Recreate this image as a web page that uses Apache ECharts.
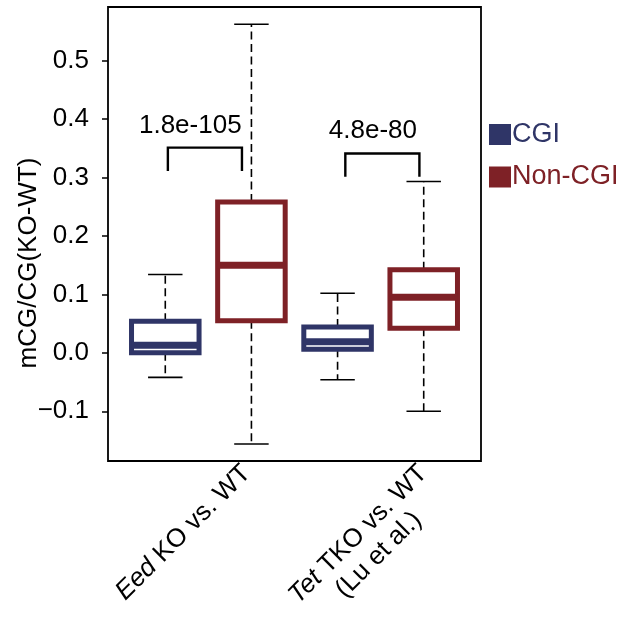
<!DOCTYPE html>
<html>
<head>
<meta charset="utf-8">
<script src="https://cdn.jsdelivr.net/npm/echarts@6.0.0/dist/echarts.min.js"></script>
<style>
  html, body { margin: 0; padding: 0; background: #fff; }
  #chart { width: 638px; height: 624px; }
</style>
</head>
<body>
<div id="chart"></div>
<script>
// data
const groupNames = ["CGI", "Non-CGI"];
const comparisons = ["Eed KO vs. WT", "Tet TKO vs. WT (Lu et al.)"];
// [min, Q1, median, Q3, max] per comparison
const cgiStats = [
  [-0.042, 0.0, 0.013, 0.054, 0.134],
  [-0.046, 0.006, 0.019, 0.044, 0.102],
];
const nonCgiStats = [
  [-0.156, 0.055, 0.150, 0.258, 0.562],
  [-0.100, 0.042, 0.095, 0.142, 0.293],
];
// box positions on the hidden x scale
const cgiX = [1, 3];
const nonCgiX = [2, 4];
// p-value annotations
const pValues = ["1.8e-105", "4.8e-80"];
const bracketLeft = [1.03, 3.09];
const bracketRight = [1.89, 3.95];
const bracketTop = [0.351, 0.341];
const bracketLeg = [0.311, 0.301];
const pLabelX = [1.29, 3.41];
const pLabelY = [0.388, 0.379];
// y ticks
const yTicks = [-0.1, 0, 0.1, 0.2, 0.3, 0.4, 0.5];
// x label anchors
const xLabelPos = [2.064, 4.114];

const FONT = "'Liberation Sans', Arial, Helvetica, sans-serif";
const navy = "#2f3567";
const red = "#7e2126";

const boxData = (xs, stats) => xs.map((x, i) => [x].concat(stats[i]));

const renderBox = (params, api) => {
  const x = api.value(0);
  const pMin = api.coord([x, api.value(1)]);
  const pQ1 = api.coord([x, api.value(2)]);
  const pMed = api.coord([x, api.value(3)]);
  const pQ3 = api.coord([x, api.value(4)]);
  const pMax = api.coord([x, api.value(5)]);
  const half = api.size([0.392, 0])[0];
  const cap = api.size([0.2, 0])[0];
  const color = api.visual("color");
  const cx = pMed[0];
  const dash = { stroke: "#000", lineWidth: 1.6, lineDash: [8, 4.5] };
  const solid = { stroke: "#000", lineWidth: 1.6 };
  return {
    type: "group",
    children: [
      { type: "line", shape: { x1: cx, y1: pQ3[1], x2: cx, y2: pMax[1] }, style: dash },
      { type: "line", shape: { x1: cx, y1: pQ1[1], x2: cx, y2: pMin[1] }, style: dash },
      { type: "line", shape: { x1: cx - cap, y1: pMax[1], x2: cx + cap, y2: pMax[1] }, style: solid },
      { type: "line", shape: { x1: cx - cap, y1: pMin[1], x2: cx + cap, y2: pMin[1] }, style: solid },
      {
        type: "rect",
        shape: { x: cx - half, y: pQ3[1], width: half * 2, height: pQ1[1] - pQ3[1] },
        style: { fill: "#fff", stroke: color, lineWidth: 5 },
      },
      {
        type: "line",
        shape: { x1: cx - half, y1: pMed[1], x2: cx + half, y2: pMed[1] },
        style: { stroke: color, lineWidth: 7 },
      },
    ],
  };
};

const renderBracket = (params, api) => {
  const i = params.dataIndex;
  const l = api.coord([api.value(0), api.value(3)]);
  const lt = api.coord([api.value(0), api.value(2)]);
  const rt = api.coord([api.value(1), api.value(2)]);
  const r = api.coord([api.value(1), api.value(3)]);
  const t = api.coord([api.value(4), api.value(5)]);
  return {
    type: "group",
    children: [
      {
        type: "polyline",
        shape: { points: [l, lt, rt, r] },
        style: { stroke: "#000", lineWidth: 2.4, fill: null },
      },
      {
        type: "text",
        x: t[0],
        y: t[1],
        style: {
          text: pValues[i],
          font: "26px " + FONT,
          fill: "#000",
          align: "center",
          verticalAlign: "middle",
        },
      },
    ],
  };
};

const xLabelText = (v) => {
  if (Math.abs(v - xLabelPos[0]) < 1e-6) return "{i|Eed}{n| KO vs. WT}\n{c| }";
  if (Math.abs(v - xLabelPos[1]) < 1e-6) return "{i|Tet}{n| TKO vs. WT}\n{c|(Lu et al.)}";
  return "";
};

const chart = echarts.init(document.getElementById("chart"));
const option = {
  animation: false,
  backgroundColor: "#fff",
  grid: {
    left: 108,
    right: 157,
    top: 7,
    bottom: 163,
    outerBoundsMode: "none",
    containLabel: false,
    show: true,
    borderColor: "#000",
    borderWidth: 1.8,
    backgroundColor: "transparent",
  },
  legend: {
    orient: "vertical",
    left: 489,
    top: 119.5,
    padding: 0,
    itemWidth: 22,
    itemHeight: 21,
    itemGap: 12.5,
    selectedMode: false,
    data: [
      { name: groupNames[0], icon: "rect", textStyle: { color: navy } },
      { name: groupNames[1], icon: "rect", textStyle: { color: red } },
    ],
    textStyle: { fontSize: 27, fontFamily: FONT, lineHeight: 30, padding: [0, 0, 0, -4] },
  },
  xAxis: {
    type: "value",
    min: 0.335,
    max: 4.665,
    splitLine: { show: false },
    axisLine: { show: false },
    axisTick: { show: false },
    axisLabel: {
      customValues: xLabelPos,
      rotate: 45,
      margin: 18.5,
      formatter: xLabelText,
      fontSize: 26,
      lineHeight: 29,
      fontFamily: FONT,
      color: "#000",
      rich: {
        i: { fontStyle: "italic", fontSize: 26, fontFamily: FONT, color: "#000", lineHeight: 29 },
        n: { fontSize: 26, fontFamily: FONT, color: "#000", lineHeight: 29 },
        c: { align: "center", fontSize: 26, fontFamily: FONT, color: "#000", lineHeight: 29 },
      },
    },
  },
  yAxis: {
    type: "value",
    min: -0.185,
    max: 0.5915,
    name: "mCG/CG(KO-WT)",
    nameLocation: "middle",
    nameGap: 66,
    nameMoveOverlap: false,
    nameTextStyle: { fontSize: 26, fontFamily: FONT, color: "#000", padding: [0, 58, 0, 0] },
    splitLine: { show: false },
    axisLine: { show: false },
    axisTick: {
      show: true,
      customValues: yTicks,
      length: 6,
      lineStyle: { color: "#000", width: 1.5 },
    },
    axisLabel: {
      customValues: yTicks,
      margin: 19,
      fontSize: 26,
      fontFamily: FONT,
      color: "#000",
      formatter: (v) => (v < 0 ? "\u2212" + Math.abs(v).toFixed(1) : v.toFixed(1)),
    },
  },
  series: [
    {
      name: groupNames[0],
      type: "custom",
      color: navy,
      itemStyle: { color: navy },
      renderItem: renderBox,
      data: boxData(cgiX, cgiStats),
      silent: true,
    },
    {
      name: groupNames[1],
      type: "custom",
      color: red,
      itemStyle: { color: red },
      renderItem: renderBox,
      data: boxData(nonCgiX, nonCgiStats),
      silent: true,
    },
    {
      name: "pvalues",
      type: "custom",
      renderItem: renderBracket,
      data: pValues.map((p, i) => [
        bracketLeft[i], bracketRight[i], bracketTop[i], bracketLeg[i], pLabelX[i], pLabelY[i],
      ]),
      silent: true,
    },
  ],
};
chart.setOption(option);
</script>
</body>
</html>
